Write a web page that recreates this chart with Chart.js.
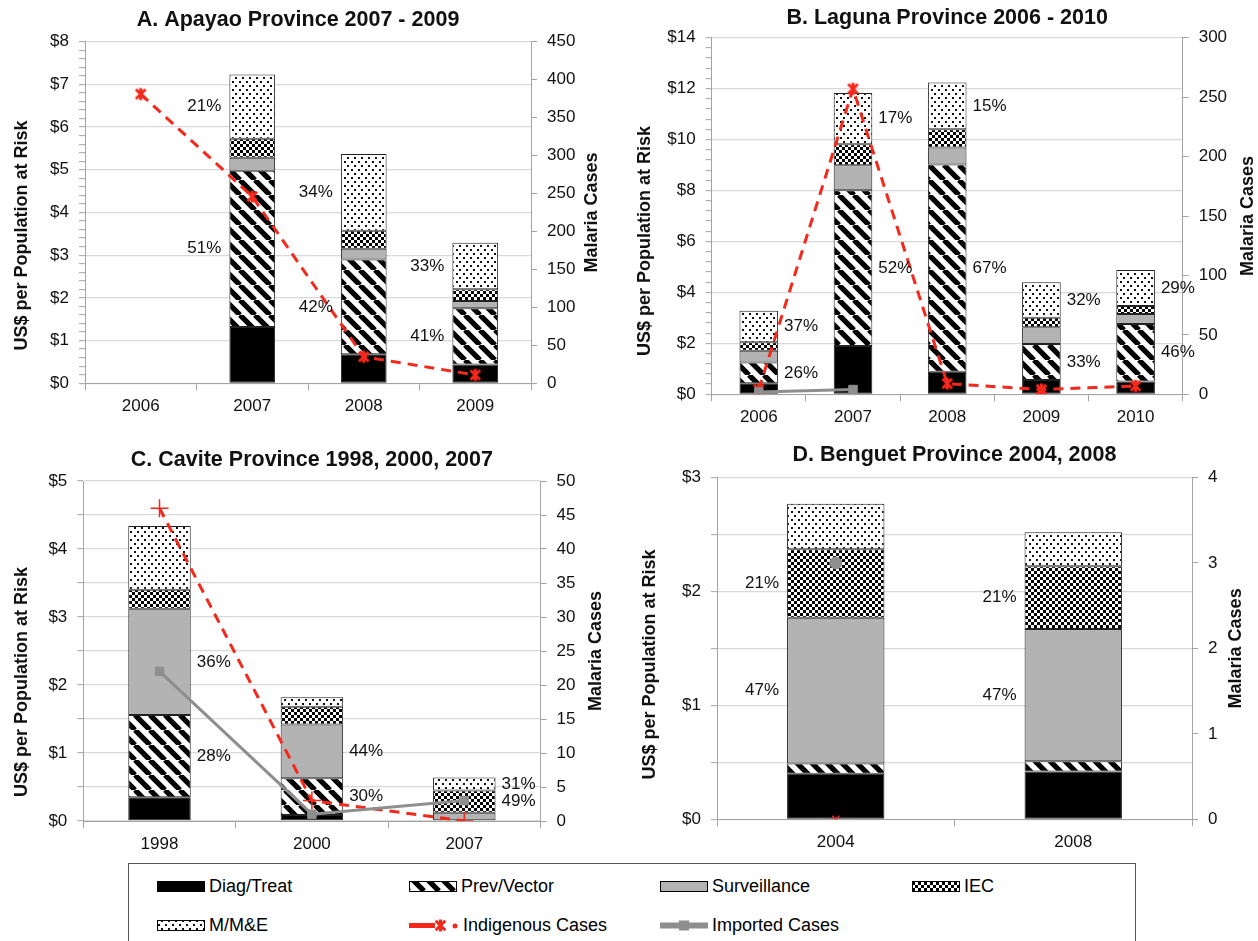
<!DOCTYPE html>
<html><head><meta charset="utf-8">
<script src="https://cdn.jsdelivr.net/npm/chart.js@4.4.1/dist/chart.umd.min.js"></script>
<style>
html,body{margin:0;padding:0;background:#fff;width:1258px;height:941px;overflow:hidden;}
.panel{position:absolute;}
#legend{position:absolute;left:128px;top:863px;width:1008px;height:90px;border:1px solid #555;box-sizing:border-box;font-family:'Liberation Sans',Arial,sans-serif;font-size:18px;color:#000;}
.item{position:absolute;height:20px;display:flex;align-items:center;white-space:nowrap;}
.item canvas{display:block;margin-right:4px;}
</style></head><body>
<div class="panel" style="left:0;top:0;width:629px;height:430px"><canvas id="cA" width="629" height="430"></canvas></div>
<div class="panel" style="left:629px;top:0;width:629px;height:430px"><canvas id="cB" width="629" height="430"></canvas></div>
<div class="panel" style="left:0;top:430px;width:629px;height:430px"><canvas id="cC" width="629" height="430"></canvas></div>
<div class="panel" style="left:629px;top:430px;width:629px;height:430px"><canvas id="cD" width="629" height="430"></canvas></div>
<div id="legend"></div>
<script>
// ---------------- DATA ----------------
const seriesNames = ['Diag/Treat','Prev/Vector','Surveillance','IEC','M/M&E'];

// A. Apayao
const yearsA = ['2006','2007','2008','2009'];
const diagA  = [null, 1.32, 0.68, 0.44];
const prevA  = [null, 3.66, 2.22, 1.32];
const survA  = [null, 0.30, 0.25, 0.17];
const iecA   = [null, 0.45, 0.42, 0.27];
const mmeA   = [null, 1.50, 1.80, 1.09];
const indigA = [381, 246, 35, 11];
const pctA = [[4,1,'21%'],[1,1,'51%'],[4,2,'34%'],[1,2,'42%'],[4,3,'33%'],[1,3,'41%']];

// B. Laguna
const yearsB = ['2006','2007','2008','2009','2010'];
const diagB  = [0.43, 1.90, 0.89, 0.56, 0.50];
const prevB  = [0.82, 6.11, 8.13, 1.41, 2.26];
const survB  = [0.46, 0.98, 0.67, 0.66, 0.39];
const iecB   = [0.33, 0.83, 0.72, 0.38, 0.32];
const mmeB   = [1.24, 2.01, 1.83, 1.39, 1.41];
const indigB = [4, 257, 9, 4, 7];
const impB   = [2, 4, null, null, null];
const pctB = [[4,0,'37%'],[1,0,'26%'],[4,1,'17%'],[1,1,'52%'],[4,2,'15%'],[1,2,'67%'],[4,3,'32%'],[1,3,'33%'],[4,4,'29%'],[1,4,'46%']];

// C. Cavite
const yearsC = ['1998','2000','2007'];
const diagC  = [0.35, 0.09, 0];
const prevC  = [1.21, 0.54, 0];
const survC  = [1.56, 0.79, 0.12];
const iecC   = [0.28, 0.26, 0.33];
const mmeC   = [0.94, 0.14, 0.19];
const indigC = [46, 3, 0];
const impC   = [22, 1, 3];
const pctC = [[2,0,'36%'],[1,0,'28%'],[2,1,'44%'],[1,1,'30%'],[4,2,'31%'],[3,2,'49%']];

// D. Benguet
const yearsD = ['2004','2008'];
const diagD  = [0.40, 0.42];
const prevD  = [0.09, 0.09];
const survD  = [1.28, 1.16];
const iecD   = [0.60, 0.55];
const mmeD   = [0.40, 0.30];
const indigD = [0, null];
const impD   = [3, null];
const pctD = [[3,0,'21%'],[2,0,'47%'],[3,1,'21%'],[2,1,'47%']];

const leftTicksA = {max:8, step:0.2, label:1, grid:1};
const leftTicksB = {max:14, step:0.4, label:2, grid:2};
const leftTicksC = {max:5, step:0.5, label:1, grid:0.5};
const leftTicksD = {max:3, step:0.5, label:1, grid:0.5};
const rightTicksA = {max:450, step:50};
const rightTicksB = {max:300, step:50};
const rightTicksC = {max:50, step:5};
const rightTicksD = {max:4, step:1};

// ---------------- STYLE ----------------
const FONT = "'Liberation Sans', Arial, Helvetica, sans-serif";
Chart.defaults.font.family = FONT;
Chart.defaults.color = '#111';
const RED = '#f5281c', GRAY = '#8e8e8e', AX = '#a3a3a3', GRID = '#d9d9d9', SURV = '#b3b3b3';

function makePattern(type){
  const c = document.createElement('canvas'); const x = c.getContext('2d');
  if(type==='solid') return '#000';
  if(type==='gray') return SURV;
  if(type==='stripe'){
    const s=15; c.width=c.height=s; x.fillStyle='#fff'; x.fillRect(0,0,s,s);
    x.strokeStyle='#000'; x.lineWidth=5.3; x.beginPath();
    for(const o of [-s,0,s]){ x.moveTo(o,0); x.lineTo(o+s,s); }
    x.stroke();
  } else if(type==='check'){
    const s=6; c.width=c.height=s; x.fillStyle='#fff'; x.fillRect(0,0,s,s);
    x.fillStyle='#000'; x.fillRect(0,0,3,3); x.fillRect(3,3,3,3);
  } else if(type==='dots'){
    c.width=7; c.height=8; x.fillStyle='#fff'; x.fillRect(0,0,7,8);
    x.fillStyle='#111'; x.fillRect(1,1,2,2); x.fillRect(4,5,2,2);
  }
  return x.createPattern(c,'repeat');
}
const fills = [makePattern('solid'), makePattern('stripe'), makePattern('gray'), makePattern('check'), makePattern('dots')];

function starMarker(size, w){
  const c = document.createElement('canvas'); c.width=c.height=size;
  const x = c.getContext('2d'); const r = size/2 - w/2, m = size/2;
  x.strokeStyle = RED; x.lineWidth = w; x.lineCap='butt'; x.beginPath();
  x.moveTo(m-r*0.8,m-r*0.8); x.lineTo(m+r*0.8,m+r*0.8);
  x.moveTo(m+r*0.8,m-r*0.8); x.lineTo(m-r*0.8,m+r*0.8);
  x.moveTo(m,m-r); x.lineTo(m,m+r); x.stroke();
  return c;
}
const STAR = starMarker(15, 3);

function near(v, every){ const r=v/every; return Math.abs(r-Math.round(r))<1e-6; }

const panelPlugin = {
  id:'panelDecor',
  afterDatasetsDraw(chart, args, o){
    const ctx = chart.ctx;
    ctx.save();
    ctx.font = `17px ${FONT}`; ctx.fillStyle = '#111'; ctx.textBaseline = 'middle';
    for(const [ds, cat, txt] of o.pct){
      const el = chart.getDatasetMeta(ds + o.barOffset).data[cat];
      if(!el) continue;
      const p = el.getProps(['x','y','base','width'], true);
      const y = (p.y + p.base)/2;
      if(o.side==='left'){ ctx.textAlign='right'; ctx.fillText(txt, p.x - p.width/2 - 8, y); }
      else { ctx.textAlign='left'; ctx.fillText(txt, p.x + p.width/2 + 6, y); }
    }
    ctx.restore();
  },
  afterDraw(chart, args, o){
    const ctx = chart.ctx, ca = chart.chartArea;
    ctx.save();
    ctx.fillStyle = '#111'; ctx.textAlign='center'; ctx.textBaseline='middle';
    ctx.font = `bold 21.5px ${FONT}`;
    ctx.fillText(o.title, (ca.left+ca.right)/2 + o.titleDx, o.titleY);
    ctx.font = `bold 18px ${FONT}`;
    const cy = (ca.top+ca.bottom)/2;
    ctx.save(); ctx.translate(o.leftTitleX, cy + o.leftTitleDy); ctx.rotate(-Math.PI/2);
    ctx.fillText('US$ per Population at Risk', 0, 0); ctx.restore();
    ctx.save(); ctx.translate(o.rightTitleX, cy); ctx.rotate(-Math.PI/2);
    ctx.fillText('Malaria Cases', 0, 0); ctx.restore();
    ctx.restore();
  }
};

function makeChart(id, d){
  const datasets = [];
  if(d.imp) datasets.push({type:'line', label:'Imported Cases', data:d.imp, yAxisID:'y1', order:0,
    borderColor:GRAY, backgroundColor:GRAY, borderWidth:3, tension:0,
    pointStyle:d.impStyle, pointRadius:6, pointBorderWidth:1, pointBackgroundColor:GRAY, pointBorderColor:GRAY});
  if(d.indig) datasets.push({type:'line', label:'Indigenous Cases', data:d.indig, yAxisID:'y1', order:0,
    borderColor:RED, backgroundColor:RED, borderWidth:3, borderDash:[10,7], tension:0,
    pointStyle:d.indStyle, pointRadius:d.indR, pointBorderWidth:d.indW, pointBackgroundColor:RED, pointBorderColor:RED});
  const barOffset = datasets.length;
  d.bars.forEach((arr,i)=>datasets.push({type:'bar', label:seriesNames[i], data:arr, yAxisID:'y', order:1,
    backgroundColor:fills[i], borderColor:'#222', borderWidth:1, borderSkipped:false,
    barPercentage:0.41, categoryPercentage:1.0}));
  const L = d.left, R = d.right;
  return new Chart(document.getElementById(id), {
    data:{labels:d.labels, datasets},
    options:{
      responsive:false, animation:false, devicePixelRatio:1,
      layout:{padding:{top:d.top, left:0, right:0, bottom:0}},
      plugins:{legend:{display:false}, tooltip:{enabled:false},
        panelDecor:{pct:d.pct, barOffset, side:d.side, title:d.title, titleY:d.titleY, titleDx:d.tdx,
          leftTitleX:d.ltx, leftTitleDy:d.ltdy, rightTitleX:d.rtx}},
      scales:{
        x:{stacked:true, offset:true,
          grid:{display:true, offset:true, drawOnChartArea:false, drawTicks:true, tickLength:7, tickColor:AX},
          border:{display:true, color:AX, width:1},
          ticks:{font:{size:17}, color:'#111', padding:6, maxRotation:0},
          afterFit:s=>{s.height=d.xh;}},
        y:{stacked:true, position:'left', min:0, max:L.max,
          ticks:{stepSize:L.step, autoSkip:false, font:{size:17}, color:'#111', padding:10,
            callback:v=> near(v,L.label) ? '$'+Math.round(v) : ''},
          grid:{color:c=> near(c.tick.value, L.grid) ? GRID : 'rgba(0,0,0,0)', lineWidth:1.3,
            drawTicks:true, tickLength:6, tickColor:AX, tickWidth:1},
          border:{display:true, color:AX, width:1},
          afterFit:s=>{s.width=d.lw;}},
        y1:{position:'right', min:0, max:R.max,
          ticks:{stepSize:R.step, autoSkip:false, font:{size:17}, color:'#111', padding:10},
          grid:{drawOnChartArea:false, drawTicks:true, tickLength:6, tickColor:AX},
          border:{display:true, color:AX, width:1},
          afterFit:s=>{s.width=d.rw;}}
      }
    },
    plugins:[panelPlugin]
  });
}

makeChart('cA', {labels:yearsA, bars:[diagA,prevA,survA,iecA,mmeA], indig:indigA, imp:null,
  indStyle:STAR, indR:7, indW:3, impStyle:'rect', pct:pctA, side:'left',
  left:leftTicksA, right:rightTicksA, title:'A. Apayao Province 2007 - 2009',
  top:41.7, xh:46.7, lw:85, rw:98, titleY:20, tdx:-10, ltx:22, ltdy:23, rtx:592});
makeChart('cB', {labels:yearsB, bars:[diagB,prevB,survB,iecB,mmeB], indig:indigB, imp:impB,
  indStyle:STAR, indR:7, indW:3, impStyle:'rect', pct:pctB, side:'right',
  left:leftTicksB, right:rightTicksB, title:'B. Laguna Province 2006 - 2010',
  top:37.7, xh:35.7, lw:82.7, rw:75.3, titleY:18.3, tdx:0, ltx:16, ltdy:25, rtx:619});
makeChart('cC', {labels:yearsC, bars:[diagC,prevC,survC,iecC,mmeC], indig:indigC, imp:impC,
  indStyle:'cross', indR:9, indW:1.5, impStyle:'rect', pct:pctC, side:'right',
  left:leftTicksC, right:rightTicksC, title:'C. Cavite Province 1998, 2000, 2007',
  top:51, xh:39, lw:83.3, rw:88.5, titleY:30, tdx:0, ltx:22, ltdy:31, rtx:596});
makeChart('cD', {labels:yearsD, bars:[diagD,prevD,survD,iecD,mmeD], indig:indigD, imp:impD,
  indStyle:'crossRot', indR:5, indW:1.5, impStyle:'circle', pct:pctD, side:'left',
  left:leftTicksD, right:rightTicksD, title:'D. Benguet Province 2004, 2008',
  top:47.5, xh:40.7, lw:88, rw:66, titleY:25, tdx:0, ltx:21, ltdy:16, rtx:607});

// ---------------- LEGEND ----------------
const legend = document.getElementById('legend');
function addItem(x, y, w, draw, text){
  const div = document.createElement('div'); div.className='item';
  div.style.left = x+'px'; div.style.top = (y-10)+'px';
  const c = document.createElement('canvas'); c.width=w; c.height=20;
  draw(c.getContext('2d'), w);
  div.appendChild(c);
  const s = document.createElement('span'); s.textContent = text; div.appendChild(s);
  legend.appendChild(div);
}
function boxDraw(i){ return (x,w)=>{ x.fillStyle=fills[i]; x.fillRect(0.5,5.5,w-1,10); x.strokeStyle='#000'; x.lineWidth=1; x.strokeRect(0.5,5.5,w-1,10); }; }
const colX = [28, 280, 531, 783];
const rowY = [22, 61];
addItem(colX[0], rowY[0], 48, boxDraw(0), seriesNames[0]);
addItem(colX[1], rowY[0], 48, boxDraw(1), seriesNames[1]);
addItem(colX[2], rowY[0], 48, boxDraw(2), seriesNames[2]);
addItem(colX[3], rowY[0], 48, boxDraw(3), seriesNames[3]);
addItem(colX[0], rowY[1], 48, boxDraw(4), seriesNames[4]);
addItem(colX[1], rowY[1], 50, (x,w)=>{
  x.strokeStyle=RED; x.lineWidth=5; x.beginPath(); x.moveTo(0,10.5); x.lineTo(26,10.5); x.stroke();
  x.drawImage(STAR, 24, 3);
  x.fillStyle=RED; x.beginPath(); x.arc(46,11,2.5,0,Math.PI*2); x.fill();
}, 'Indigenous Cases');
addItem(colX[2], rowY[1], 48, (x,w)=>{
  x.strokeStyle=GRAY; x.lineWidth=6; x.beginPath(); x.moveTo(0,10.5); x.lineTo(w,10.5); x.stroke();
  x.fillStyle=GRAY; x.fillRect(w/2-5,5.5,10,10);
}, 'Imported Cases');
</script>
</body></html>
